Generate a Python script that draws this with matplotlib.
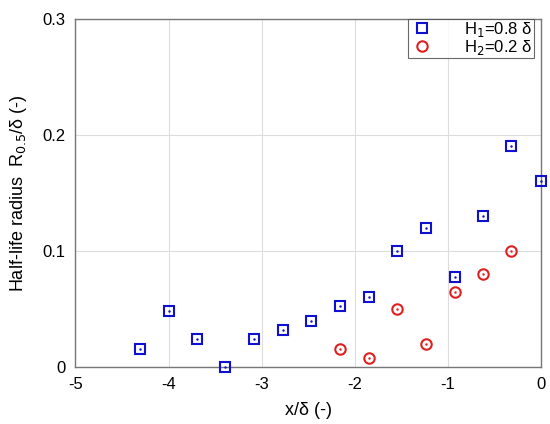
import matplotlib
matplotlib.use("Agg")
import matplotlib.pyplot as plt
from matplotlib.lines import Line2D

plt.rcParams['font.family'] = ['Liberation Sans', 'DejaVu Sans']

# H1 = 0.8 delta
x_h1 = [-4.31, -4.0, -3.69, -3.39, -3.08, -2.77, -2.47, -2.16, -1.85, -1.55, -1.24, -0.93, -0.62, -0.32, 0.0]
r_h1 = [0.016, 0.048, 0.024, 0.0, 0.024, 0.032, 0.040, 0.053, 0.060, 0.100, 0.120, 0.078, 0.130, 0.190, 0.160]

# H2 = 0.2 delta
x_h2 = [-2.16, -1.85, -1.55, -1.24, -0.93, -0.62, -0.32]
r_h2 = [0.016, 0.008, 0.050, 0.020, 0.065, 0.080, 0.100]

fig = plt.figure(figsize=(5.5, 4.24), dpi=100)
ax = fig.add_axes([0.137, 0.134, 0.847, 0.822])

ax.plot(x_h1, r_h1, ls="none", marker="s", ms=7.5, mfc="none", mec="#1010d0", mew=1.5, clip_on=False, zorder=3)
ax.plot(x_h1, r_h1, ls="none", marker=".", ms=1.5, color="#1010d0", clip_on=False, zorder=3)
ax.plot(x_h2, r_h2, ls="none", marker="o", ms=7.5, mfc="none", mec="#e02020", mew=1.5, clip_on=False, zorder=3)
ax.plot(x_h2, r_h2, ls="none", marker=".", ms=1.5, color="#e02020", clip_on=False, zorder=3)

ax.set_xlim(-5, 0)
ax.set_ylim(0, 0.3)
ax.set_xticks([-5, -4, -3, -2, -1, 0])
ax.set_yticks([0, 0.1, 0.2, 0.3])
ax.set_xticklabels(["-5", "-4", "-3", "-2", "-1", "0"])
ax.set_yticklabels(["0", "0.1", "0.2", "0.3"])
ax.grid(True, color="#dddddd", lw=0.8)
ax.set_axisbelow(True)
ax.tick_params(length=0, labelsize=12, pad=7)
for s in ax.spines.values():
    s.set_color("#777777")
    s.set_linewidth(1.0)

ax.set_xlabel("x/δ (-)", fontsize=13, labelpad=7)
ax.set_ylabel("Half-life radius  R$_{0.5}$/δ (-)", fontsize=13, labelpad=10)

handles = [
    Line2D([], [], ls="none", marker="s", ms=7.5, mfc="none", mec="#1010d0", mew=1.5),
    Line2D([], [], ls="none", marker="o", ms=7.5, mfc="none", mec="#e02020", mew=1.5),
]
leg = ax.legend(handles, ["H$_1$=0.8 δ", "H$_2$=0.2 δ"], loc="upper right",
                bbox_to_anchor=(0.985, 1.0), fontsize=12, frameon=True, fancybox=False,
                borderpad=0.1, labelspacing=-0.1, handletextpad=1.8, handlelength=1.5,
                borderaxespad=0.0)
leg.get_frame().set_edgecolor("#444444")
leg.get_frame().set_linewidth(0.8)

fig.savefig("out.png", dpi=100)
